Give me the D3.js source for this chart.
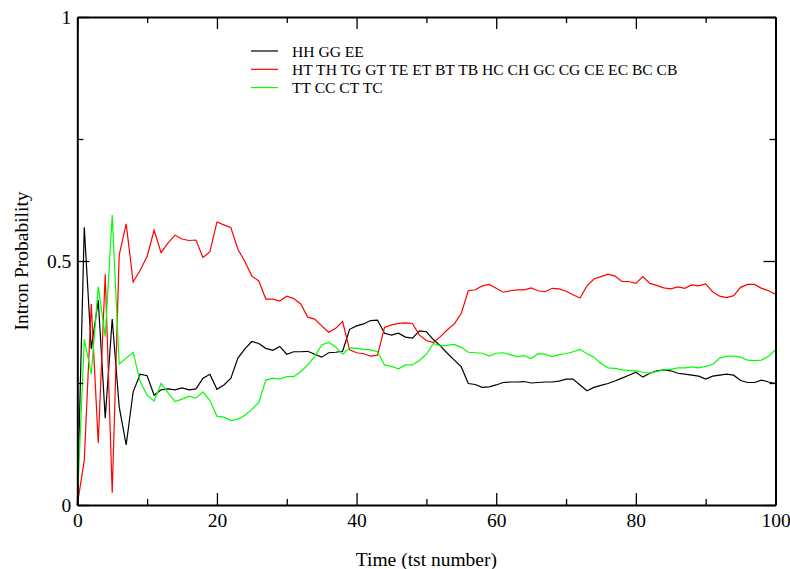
<!DOCTYPE html>
<html>
<head>
<meta charset="utf-8">
<script src="https://cdn.jsdelivr.net/npm/d3@7"></script>
<style>
    body { margin: 0; background: white; }
    text { font-family: "Liberation Serif", "Times New Roman", serif; fill: black; }
</style>
</head>
<body>
<svg id="chart"></svg>
<script>
"use strict";

// intron probability per tst step (index = time)
const hhGgEe = [0, 0.569, 0.32, 0.42, 0.178, 0.381, 0.201, 0.123, 0.232, 0.268,
    0.265, 0.225, 0.236, 0.238, 0.236, 0.240, 0.236, 0.238, 0.260, 0.268,
    0.237, 0.246, 0.260, 0.301, 0.320, 0.335, 0.331, 0.321, 0.317, 0.325,
    0.309, 0.314, 0.314, 0.315, 0.309, 0.303, 0.312, 0.313, 0.315, 0.360,
    0.367, 0.371, 0.378, 0.379, 0.352, 0.348, 0.352, 0.344, 0.342, 0.357,
    0.355, 0.339, 0.326, 0.311, 0.297, 0.283, 0.249, 0.247, 0.241, 0.242,
    0.246, 0.251, 0.252, 0.252, 0.253, 0.250, 0.251, 0.252, 0.252, 0.254,
    0.258, 0.258, 0.246, 0.234, 0.241, 0.245, 0.249, 0.254, 0.260, 0.266,
    0.272, 0.262, 0.270, 0.275, 0.277, 0.275, 0.270, 0.268, 0.266, 0.264,
    0.258, 0.264, 0.266, 0.268, 0.266, 0.255, 0.251, 0.251, 0.256, 0.252,
    0.249];

const mixedPairs = [0, 0.092, 0.412, 0.127, 0.473, 0.025, 0.512, 0.576, 0.457, 0.481,
    0.509, 0.563, 0.517, 0.537, 0.553, 0.545, 0.542, 0.543, 0.507, 0.519,
    0.580, 0.574, 0.568, 0.524, 0.499, 0.469, 0.459, 0.422, 0.422, 0.418,
    0.428, 0.423, 0.412, 0.385, 0.381, 0.367, 0.354, 0.362, 0.376, 0.318,
    0.312, 0.310, 0.305, 0.307, 0.364, 0.369, 0.372, 0.373, 0.372, 0.348,
    0.337, 0.333, 0.345, 0.359, 0.371, 0.393, 0.439, 0.441, 0.449, 0.452,
    0.444, 0.436, 0.439, 0.441, 0.441, 0.445, 0.439, 0.437, 0.444, 0.443,
    0.438, 0.431, 0.424, 0.449, 0.463, 0.468, 0.473, 0.469, 0.458, 0.458,
    0.454, 0.468, 0.454, 0.450, 0.445, 0.443, 0.447, 0.444, 0.451, 0.449,
    0.453, 0.437, 0.428, 0.425, 0.429, 0.446, 0.452, 0.452, 0.444, 0.439,
    0.432];

const ttCcCtTc = [0, 0.34, 0.268, 0.447, 0.345, 0.594, 0.289, 0.301, 0.313, 0.253,
    0.225, 0.213, 0.249, 0.230, 0.212, 0.217, 0.223, 0.219, 0.232, 0.214,
    0.182, 0.180, 0.173, 0.176, 0.184, 0.196, 0.210, 0.256, 0.260, 0.258,
    0.263, 0.263, 0.273, 0.287, 0.304, 0.328, 0.333, 0.324, 0.309, 0.322,
    0.321, 0.319, 0.318, 0.314, 0.287, 0.284, 0.279, 0.287, 0.287, 0.296,
    0.309, 0.331, 0.326, 0.327, 0.329, 0.323, 0.313, 0.312, 0.311, 0.305,
    0.311, 0.312, 0.308, 0.304, 0.306, 0.300, 0.310, 0.309, 0.304, 0.308,
    0.310, 0.314, 0.319, 0.310, 0.303, 0.290, 0.281, 0.280, 0.277, 0.276,
    0.275, 0.272, 0.270, 0.274, 0.277, 0.278, 0.281, 0.281, 0.283, 0.281,
    0.284, 0.288, 0.301, 0.305, 0.305, 0.303, 0.297, 0.296, 0.297, 0.305,
    0.318];

const seriesNames = ["HH GG EE",
    "HT TH TG GT TE ET BT TB HC CH GC CG CE EC BC CB",
    "TT CC CT TC"];
const seriesColors = ["#000000", "#ff0000", "#00ff00"];

const xMajorTicks = [0, 20, 40, 60, 80, 100];
const xMinorTicks = [10, 30, 50, 70, 90];
const yMajorTicks = [0, 0.5, 1];
const yMinorTicks = [0.25, 0.75];


const width = 790;
const height = 569;
const margin = { top: 17, right: 14.5, bottom: 64, left: 77.3 };

const svg = d3.select("#chart")
    .attr("width", width)
    .attr("height", height);

const x = d3.scaleLinear()
    .domain([0, 100])
    .range([margin.left, width - margin.right]);

const y = d3.scaleLinear()
    .domain([0, 1])
    .range([height - margin.bottom, margin.top]);


// axes: ticks all point into the plot, only bottom/left carry labels
function drawAxes() {
    const fmt = d => d === 0.5 ? "0.5" : d3.format("d")(d);

    const axes = [
        [d3.axisBottom(x), `translate(0,${y(0)})`, xMajorTicks, xMinorTicks, 8],
        [d3.axisTop(x), `translate(0,${y(1)})`, xMajorTicks, xMinorTicks, 0],
        [d3.axisLeft(y), `translate(${x(0)},0)`, yMajorTicks, yMinorTicks, 6],
        [d3.axisRight(y), `translate(${x(100)},0)`, yMajorTicks, yMinorTicks, 0]
    ];

    for (let [axis, tr, major, minor, pad] of axes) {
        let g = svg.append("g").attr("transform", tr);
        g.call(axis.tickValues(major).tickSizeInner(-12).tickSizeOuter(0)
            .tickPadding(pad).tickFormat(pad ? fmt : ""));
        g.append("g").call(axis.tickValues(minor).tickSizeInner(-6).tickFormat(""))
            .select(".domain").remove();
        g.selectAll(".tick line").attr("stroke", "black").attr("stroke-width", 1.3);
        g.selectAll(".domain").attr("stroke", "black").attr("stroke-width", 2);
        g.selectAll("text").attr("font-size", 19.5)
            .attr("font-family", "Liberation Serif").attr("fill", "black");
    }
}

function drawLines() {
    const line = d3.line()
        .x((d, i) => x(i))
        .y(d => y(d));

    [hhGgEe, mixedPairs, ttCcCtTc].forEach((values, k) => {
        svg.append("path")
            .datum(values)
            .attr("fill", "none")
            .attr("stroke", seriesColors[k])
            .attr("stroke-width", 1.2)
            .attr("d", line);
    });
}

function drawLegend() {
    const legend = svg.append("g").attr("transform", "translate(251,51)");
    seriesNames.forEach((name, k) => {
        let row = legend.append("g").attr("transform", `translate(0,${k * 18.3})`);
        row.append("line")
            .attr("x1", 0).attr("x2", 27)
            .attr("stroke", seriesColors[k]).attr("stroke-width", 1.2);
        row.append("text")
            .attr("x", 41).attr("y", 5.5)
            .attr("font-size", 15.6)
            .text(name);
    });
}

drawLines();
drawAxes();
drawLegend();

svg.append("text")
    .attr("x", (x(0) + x(100)) / 2)
    .attr("y", 566)
    .attr("text-anchor", "middle")
    .attr("font-size", 19.5)
    .text("Time (tst number)");

svg.append("text")
    .attr("transform", `translate(28,${y(0.5)}) rotate(-90)`)
    .attr("text-anchor", "middle")
    .attr("font-size", 19.5)
    .text("Intron Probability");
</script>
</body>
</html>
